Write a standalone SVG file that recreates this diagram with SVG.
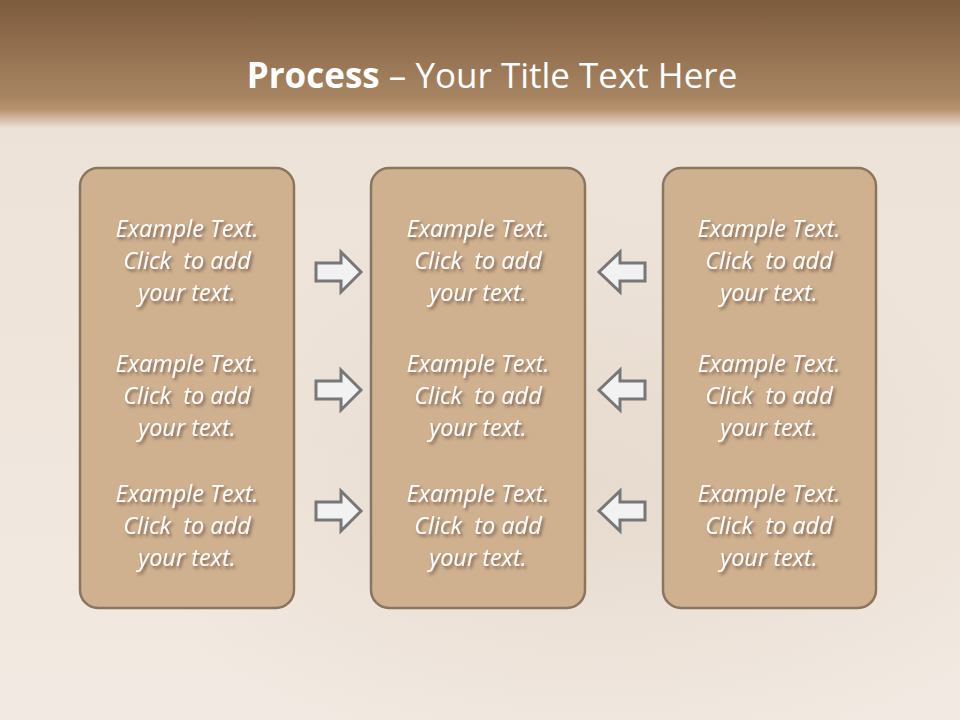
<svg xmlns="http://www.w3.org/2000/svg" width="960" height="720" viewBox="0 0 960 720">
<defs>
<linearGradient id="bg" x1="0" y1="0" x2="0" y2="1">
<stop offset="0" stop-color="#7C5B3D"/>
<stop offset="0.135" stop-color="#A88562"/>
<stop offset="0.152" stop-color="#B8936E"/>
<stop offset="0.178" stop-color="#EDE2D7"/>
<stop offset="1" stop-color="#F2EAE2"/>
</linearGradient>
<radialGradient id="shade" cx="0.62" cy="0.6" r="0.5">
<stop offset="0" stop-color="#E3D5C8" stop-opacity="0.7"/>
<stop offset="1" stop-color="#E3D5C8" stop-opacity="0"/>
</radialGradient>
<filter id="ts" x="-10%" y="-20%" width="130%" height="160%">
<feDropShadow dx="2" dy="2.5" stdDeviation="1.5" flood-color="#5A4030" flood-opacity="0.7"/>
</filter>
</defs>
<style>
.box{fill:#CFB08F;stroke:#8C755F;stroke-width:2.5}
.arr{fill:#F2F2F2;stroke:#777777;stroke-width:3;stroke-linejoin:miter}
.t{font-family:"Open Sans","Liberation Sans",sans-serif;font-style:italic;font-size:23.5px;fill:#FFFFFF;text-anchor:middle;filter:url(#ts);white-space:pre}
.title{font-family:"Open Sans","Liberation Sans",sans-serif;font-size:35px;fill:#FFFFFF;text-anchor:middle}
</style>
<rect width="960" height="720" fill="url(#bg)"/>
<rect x="0" y="130" width="960" height="590" fill="url(#shade)"/>
<text class="title" x="492" y="88"><tspan font-weight="bold">Process</tspan> – Your Title Text Here</text>

<g id="box-left">
<rect class="box" x="80" y="168" width="214" height="440" rx="18"/>
<text class="t" xml:space="preserve"><tspan x="187" y="237">Example Text.</tspan><tspan x="187" y="269">Click  to add</tspan><tspan x="187" y="301">your text.</tspan></text>
<text class="t" xml:space="preserve"><tspan x="187" y="372">Example Text.</tspan><tspan x="187" y="404">Click  to add</tspan><tspan x="187" y="436">your text.</tspan></text>
<text class="t" xml:space="preserve"><tspan x="187" y="502">Example Text.</tspan><tspan x="187" y="534">Click  to add</tspan><tspan x="187" y="566">your text.</tspan></text>
</g>
<g id="box-middle">
<rect class="box" x="371" y="168" width="214" height="440" rx="18"/>
<text class="t" xml:space="preserve"><tspan x="478" y="237">Example Text.</tspan><tspan x="478" y="269">Click  to add</tspan><tspan x="478" y="301">your text.</tspan></text>
<text class="t" xml:space="preserve"><tspan x="478" y="372">Example Text.</tspan><tspan x="478" y="404">Click  to add</tspan><tspan x="478" y="436">your text.</tspan></text>
<text class="t" xml:space="preserve"><tspan x="478" y="502">Example Text.</tspan><tspan x="478" y="534">Click  to add</tspan><tspan x="478" y="566">your text.</tspan></text>
</g>
<g id="box-right">
<rect class="box" x="663" y="168" width="213" height="440" rx="18"/>
<text class="t" xml:space="preserve"><tspan x="769" y="237">Example Text.</tspan><tspan x="769" y="269">Click  to add</tspan><tspan x="769" y="301">your text.</tspan></text>
<text class="t" xml:space="preserve"><tspan x="769" y="372">Example Text.</tspan><tspan x="769" y="404">Click  to add</tspan><tspan x="769" y="436">your text.</tspan></text>
<text class="t" xml:space="preserve"><tspan x="769" y="502">Example Text.</tspan><tspan x="769" y="534">Click  to add</tspan><tspan x="769" y="566">your text.</tspan></text>
</g>

<g id="connectors">
<path class="arr" d="M316 263 H341 V252 L361 272 L341 292 V281 H316 Z"/>
<path class="arr" d="M316 381 H341 V370 L361 390 L341 410 V399 H316 Z"/>
<path class="arr" d="M316 502 H341 V491 L361 511 L341 531 V520 H316 Z"/>
<path class="arr" d="M645 263 H620 V252 L599 272 L620 292 V281 H645 Z"/>
<path class="arr" d="M645 381 H620 V370 L599 390 L620 410 V399 H645 Z"/>
<path class="arr" d="M645 502 H620 V491 L599 511 L620 531 V520 H645 Z"/>
</g>
</svg>
